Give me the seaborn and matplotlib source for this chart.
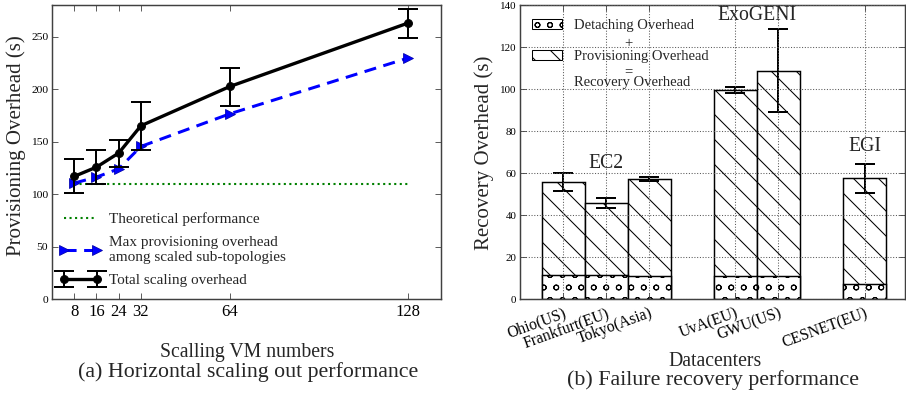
import matplotlib
matplotlib.use("Agg")
import matplotlib.pyplot as plt
import seaborn as sns
import pandas as pd
from matplotlib.patches import Patch

# (a) horizontal scaling out
vm_numbers = [8, 16, 24, 32, 64, 128]
theoretical = [110, 110, 110, 110, 110, 110]
max_sub = [110.4, 116.1, 124.0, 145.3, 176.4, 229.4]
total_scaling = [116.8, 125.6, 139.0, 165.0, 202.4, 262.7]
total_low = [100.9, 109.8, 125.6, 141.5, 184.0, 249.0]
total_high = [132.9, 141.5, 151.6, 187.2, 220.2, 276.3]

# (b) failure recovery
sites = ["Ohio(US)", "Frankfurt(EU)", "Tokyo(Asia)", "UvA(EU)", "GWU(US)", "CESNET(EU)"]
recovery = [55.5, 45.7, 57.1, 99.7, 108.8, 57.6]
recovery_low = [51.2, 43.3, 56.0, 98.1, 89.0, 50.7]
recovery_high = [59.8, 47.9, 57.9, 101.0, 128.6, 64.5]
detaching = [11.6, 11.3, 10.9, 10.9, 10.8, 7.1]

DPI = 75  # hatch cell = 1 inch, so 75 dpi gives the denser hatch of the original

sns.set_style("ticks")
plt.rcParams["font.family"] = ["Liberation Serif", "DejaVu Serif"]
plt.rcParams.update({
    "xtick.direction": "in", "ytick.direction": "in",
    "xtick.top": True, "ytick.right": True,
    "xtick.major.size": 6, "ytick.major.size": 6,
    "axes.edgecolor": "0.25", "axes.linewidth": 1.4,
    "xtick.color": "0.25", "ytick.color": "0.25",
    "xtick.labelcolor": "black", "ytick.labelcolor": "black",
    "hatch.linewidth": 1.0,
})

fig = plt.figure(figsize=(906 / DPI, 398 / DPI), dpi=DPI)
ax1 = fig.add_axes([0.0574, 0.2487, 0.4294, 0.7387])
ax2 = fig.add_axes([0.574, 0.2487, 0.4249, 0.7387])

# ---- left panel
sns.lineplot(x=vm_numbers, y=theoretical, ax=ax1, color="green", linestyle=":",
             linewidth=2, label="Theoretical performance")
sns.lineplot(x=vm_numbers, y=max_sub, ax=ax1, color="blue", linestyle=(0, (4, 2.5)),
             linewidth=2.9, marker=">", markersize=9.5, markeredgecolor="#0000aa",
             label="Max provisioning overhead\namong scaled sub-topologies")
yerr = [[t - l for t, l in zip(total_scaling, total_low)],
        [h - t for t, h in zip(total_scaling, total_high)]]
ax1.errorbar(vm_numbers, total_scaling, yerr=yerr, fmt="-o", color="black", lw=3.2,
             ms=7.5, capsize=9.6, capthick=1.9, elinewidth=1.9,
             label="Total scaling overhead")

ax1.set_xlim(0, 140)
ax1.set_ylim(0, 280)
ax1.set_xticks(vm_numbers)
ax1.set_yticks(range(0, 251, 50))
ax1.tick_params(axis="x", labelsize=16, pad=5)
ax1.tick_params(axis="y", labelsize=11)
ax1.legend(loc="lower left", bbox_to_anchor=(0.02, 0.04), frameon=False, fontsize=14.7,
           numpoints=2, handlelength=2.75, handletextpad=0.45, labelspacing=0.63,
           borderpad=0, borderaxespad=0)

# ---- right panel
df = pd.DataFrame({"site": sites, "recovery": recovery, "detaching": detaching})
order = ["Ohio(US)", "Frankfurt(EU)", "Tokyo(Asia)", " ", "UvA(EU)", "GWU(US)", "  ", "CESNET(EU)"]
sns.barplot(data=df, x="site", y="recovery", order=order, width=1, color="white",
            edgecolor="black", linewidth=1.4, hatch="\\", errorbar=None, ax=ax2)
sns.barplot(data=df, x="site", y="detaching", order=order, width=1, color="white",
            edgecolor="black", linewidth=1.4, hatch="o", errorbar=None, ax=ax2)
xs = [order.index(s) for s in sites]
ax2.errorbar(xs, recovery,
             yerr=[[r - l for r, l in zip(recovery, recovery_low)],
                   [h - r for r, h in zip(recovery, recovery_high)]],
             fmt="none", ecolor="black", elinewidth=1.9, capsize=9.6, capthick=1.9)

ax2.set_xlim(-1, 7.94)
ax2.set_ylim(0, 140)
ax2.set_yticks(range(0, 141, 20))
ax2.set_xticks(xs, sites, rotation=20, ha="right", rotation_mode="anchor")
ax2.tick_params(axis="x", labelsize=15, pad=6)
ax2.tick_params(axis="y", labelsize=10.5)
ax2.set_xlabel("")
ax2.set_ylabel("")
ax2.grid(True, linestyle=":", color="0.35", linewidth=1.0)
ax2.set_axisbelow(False)

ax2.text(order.index("Frankfurt(EU)"), 64.5, "EC2", ha="center", va="center", fontsize=19)
ax2.text((order.index("UvA(EU)") + order.index("GWU(US)")) / 2, 135, "ExoGENI",
         ha="center", va="center", fontsize=19)
ax2.text(order.index("CESNET(EU)"), 72.6, "EGI", ha="center", va="center", fontsize=19)

handles = [Patch(facecolor="white", edgecolor="black", hatch="o"),
           Patch(facecolor="white", edgecolor="black", hatch="\\")]
ax2.legend(handles, ["Detaching Overhead", "Provisioning Overhead"], loc="upper left",
           bbox_to_anchor=(0.031, 0.954), frameon=False, fontsize=14, handlelength=2.05,
           handleheight=0.7, handletextpad=0.8, labelspacing=1.24, borderpad=0,
           borderaxespad=0)
ax2.text(0.281, 0.867, "+", transform=ax2.transAxes, ha="center", va="center", fontsize=14)
ax2.text(0.281, 0.775, "=", transform=ax2.transAxes, ha="center", va="center", fontsize=14)
ax2.text(0.140, 0.736, "Recovery Overhead", transform=ax2.transAxes, ha="left",
         va="center", fontsize=14)

# ---- labels and captions
fig.text(16 / 906, 0.634, "Provisioning Overhead (s)", rotation=90, ha="center",
         va="center", fontsize=20)
fig.text(484 / 906, 0.617, "Recovery Overhead (s)", rotation=90, ha="center",
         va="center", fontsize=20)
fig.text(247 / 906, 1 - 353 / 398, "Scalling VM numbers", ha="center", va="center", fontsize=19)
fig.text(715 / 906, 1 - 361 / 398, "Datacenters", ha="center", va="center", fontsize=19)
fig.text(248 / 906, 1 - 372 / 398, "(a) Horizontal scaling out performance",
         ha="center", va="center", fontsize=21)
fig.text(713 / 906, 1 - 380 / 398, "(b) Failure recovery performance",
         ha="center", va="center", fontsize=21)

fig.savefig("out.png", dpi=DPI)
